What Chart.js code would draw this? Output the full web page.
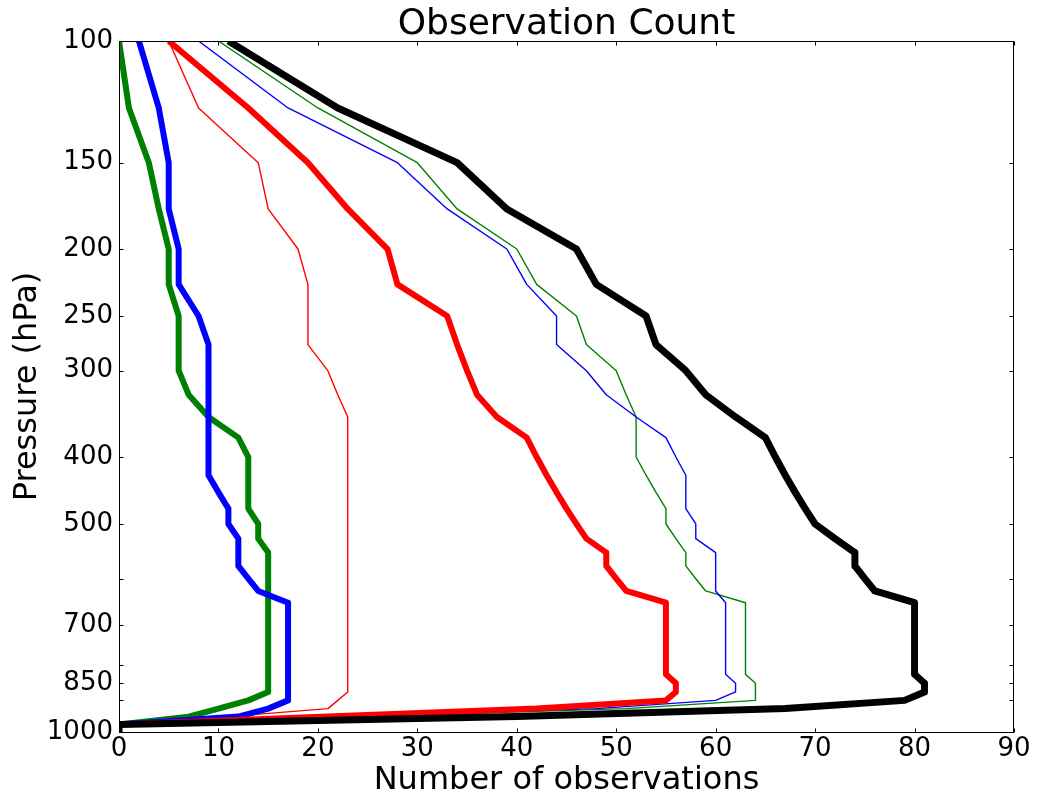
<!DOCTYPE html>
<html>
<head>
<meta charset="utf-8">
<script src="https://cdn.jsdelivr.net/npm/chart.js@4.4.1/dist/chart.umd.min.js"></script>
<style>
html,body{margin:0;padding:0;background:#fff;}
#wrap{width:1038px;height:801px;}
</style>
</head>
<body>
<div id="wrap"><canvas id="c" width="1038" height="801"></canvas></div>
<script>
// Pressure levels (hPa)
const levels = [100,125,150,175,200,225,250,275,300,325,350,375,400,425,450,475,500,525,550,575,600,625,650,675,700,725,750,775,800,825,850,875,900,925,950,975,1000];

// Observation counts per level
const blackThick = [11,22,34,39,46,48,53,54,57,59,62,65,66,67,68,69,70,72,74,74,75,76,80,80,80,80,80,80,80,80,81,81,79,67,40,0,0];
const redThick   = [5,13,19,23,27,28,33,34,35,36,38,41,42,43,44,45,46,47,49,49,50,51,55,55,55,55,55,55,55,55,56,56,55,42,21,0,0];
const blueThick  = [2,4,5,5,6,6,8,9,9,9,9,9,9,9,10,11,11,12,12,12,13,14,17,17,17,17,17,17,17,17,17,17,17,15,12,0,0];
const greenThick = [0,1,3,4,5,5,6,6,6,7,9,12,13,13,13,13,14,14,15,15,15,15,15,15,15,15,15,15,15,15,15,15,13,10,7,0,0];
const redThin    = [5,8,14,15,18,19,19,19,21,22,23,23,23,23,23,23,23,23,23,23,23,23,23,23,23,23,23,23,23,23,23,23,22,21,11,0,0];
const blueThin   = [8,17,28,33,39,41,44,44,47,49,52,55,56,57,57,57,58,58,60,60,60,60,61,61,61,61,61,61,61,61,62,62,60,48,24,0,0];
const greenThin  = [10,20,30,34,40,42,46,47,50,51,52,52,52,53,54,55,55,56,57,57,58,59,63,63,63,63,63,63,63,63,64,64,64,51,25,0,0];

// Axis ticks
const xTickValues = [0,10,20,30,40,50,60,70,80,90];
const yTickValues = [100,150,200,250,300,400,500,600,700,800,850,900,1000];
const yTickLabels = [100,150,200,250,300,400,500,700,850,1000];

const FONT = "'DejaVu Sans', 'Liberation Sans', sans-serif";
Chart.defaults.font.family = FONT;
Chart.defaults.color = '#000';

function series(label, values, color, width) {
  return {
    label: label,
    data: levels.map((p, i) => ({x: values[i], y: p})),
    xAxisID: 'x',
    yAxisID: 'y',
    borderColor: color,
    backgroundColor: color,
    borderWidth: width,
    pointRadius: 0,
    pointHoverRadius: 0,
    tension: 0,
    fill: false,
    clip: 0,
    borderJoinStyle: 'round',
    borderCapStyle: 'butt'
  };
}

const framePlugin = {
  id: 'frame',
  afterDatasetsDraw(chart) {
    const {ctx, chartArea: a, scales} = chart;
    const xs = scales.x, ys = scales.y;
    const L = Math.round(a.left) + 0.5, R = Math.round(a.right) - 0.5;
    const T = Math.round(a.top) + 0.5, B = Math.round(a.bottom) + 0.5;
    ctx.save();
    ctx.strokeStyle = '#000';
    ctx.lineWidth = 1;
    ctx.strokeRect(L, T, R - L, B - T);
    const len = 4;
    ctx.beginPath();
    xTickValues.forEach(v => {
      const px = Math.round(xs.getPixelForValue(v)) + 0.5;
      ctx.moveTo(px, B); ctx.lineTo(px, B - len);
      ctx.moveTo(px, T); ctx.lineTo(px, T + len);
    });
    yTickValues.forEach(v => {
      const py = Math.round(ys.getPixelForValue(v)) + 0.5;
      ctx.moveTo(L, py); ctx.lineTo(L + len, py);
      ctx.moveTo(R, py); ctx.lineTo(R - len, py);
    });
    ctx.stroke();
    ctx.restore();
  }
};

new Chart(document.getElementById('c'), {
  type: 'line',
  data: {
    datasets: [
      series('Total (thick)', blackThick, '#000000', 7),
      series('Red (thick)', redThick, '#ff0000', 6),
      series('Blue (thick)', blueThick, '#0000ff', 6),
      series('Green (thick)', greenThick, '#008000', 6),
      series('Red (thin)', redThin, '#ff0000', 1.4),
      series('Blue (thin)', blueThin, '#0000ff', 1.4),
      series('Green (thin)', greenThin, '#008000', 1.4)
    ]
  },
  options: {
    responsive: false,
    animation: false,
    indexAxis: 'y',
    layout: {padding: {left: 0, right: 24, top: 0, bottom: 0}},
    plugins: {
      legend: {display: false},
      tooltip: {enabled: false},
      title: {display: false}
    },
    scales: {
      x: {
        type: 'linear',
        position: 'bottom',
        min: 0,
        max: 90,
        afterBuildTicks: (s) => { s.ticks = xTickValues.map(v => ({value: v})); },
        afterFit: (s) => { s.height = 69; },
        grid: {display: false, drawTicks: false},
        border: {display: false},
        ticks: {autoSkip: false, maxRotation: 0, padding: 2, color: '#000', font: {family: FONT, size: 26}},
        title: {display: true, text: 'Number of observations', color: '#000', font: {family: FONT, size: 32}, padding: {top: 0, bottom: 1}}
      },
      x2: {
        type: 'linear',
        position: 'top',
        min: 0,
        max: 90,
        afterFit: (s) => { s.height = 41; },
        grid: {display: false, drawTicks: false},
        border: {display: false},
        ticks: {display: false},
        title: {display: true, text: 'Observation Count', color: '#000', font: {family: FONT, size: 36}, padding: {top: 3, bottom: 0}}
      },
      y: {
        type: 'logarithmic',
        position: 'left',
        reverse: true,
        min: 100,
        max: 1000,
        afterBuildTicks: (s) => { s.ticks = yTickValues.map(v => ({value: v})); },
        afterFit: (s) => { s.width = 119; },
        grid: {display: false, drawTicks: false},
        border: {display: false},
        ticks: {
          autoSkip: false,
          padding: 6,
          color: '#000',
          font: {family: FONT, size: 26},
          callback: (v) => yTickLabels.includes(v) ? String(v) : ''
        },
        title: {display: true, text: 'Pressure (hPa)', color: '#000', font: {family: FONT, size: 32}, padding: {top: 8, bottom: 0}}
      }
    }
  },
  plugins: [framePlugin]
});
</script>
</body>
</html>
